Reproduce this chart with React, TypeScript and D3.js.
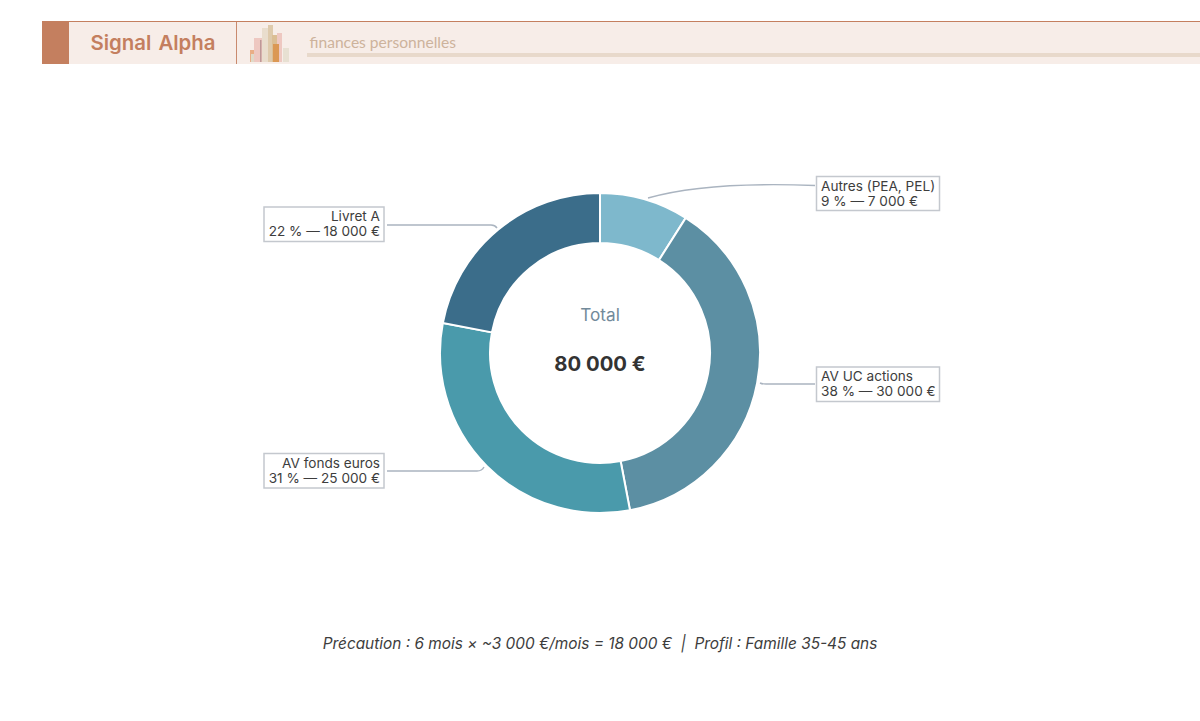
import React from 'react';
import * as d3 from 'd3';

const categories = ['Autres (PEA, PEL)', 'AV UC actions', 'AV fonds euros', 'Livret A'];
const shares = [9, 38, 31, 22];
const amountLabels = ['7 000 €', '30 000 €', '25 000 €', '18 000 €'];
const colors = ['#7eb8cc', '#5c8fa3', '#4a9aab', '#3b6d8a'];

const totalLabel = 'Total';
const totalValue = '80 000 €';
const footnote = 'Précaution : 6 mois × ~3 000 €/mois = 18 000 €  |  Profil : Famille 35-45 ans';

// little skyline logo in the header: start, width, height in logo units
const logoStarts = [0, 1, 4, 10, 12, 18, 22, 27, 23, 33];
const logoWidths = [7, 7, 8, 1.5, 7, 5, 5, 5, 6, 6];
const logoHeights = [12, 8, 24, 22, 34, 37, 27, 29, 18, 14];
const logoColors = ['#e8a87c', '#ddd8c6', '#eec4bd', '#b78f8f', '#e8dccb', '#dcc7a6', '#d9b98c', '#eec4bd', '#d98f45', '#e6dfd0'];

const WIDTH = 1200;
const HEIGHT = 721;
const CX = 600;
const CY = 353;
const R_OUT = 160;
const R_IN = 110;

// label boxes, one per category
const boxes = [
  { x: 816.5, y: 176.5, w: 123, h: 34, side: 'left' },
  { x: 816.5, y: 367, w: 123, h: 34.5, side: 'left' },
  { x: 264, y: 453.5, w: 120, h: 34.5, side: 'right' },
  { x: 264, y: 207, w: 120, h: 34.5, side: 'right' },
];

const leaders = [
  'M648,198 C690,186 750,183 815,185.5',
  'M760,383 Q762,384 766,384 L815,384',
  'M484,467 Q482,471 477,471 L387,471',
  'M497,228 Q495,225 491,225 L387,225',
];

export default function App() {
  const pie = d3.pie<number>().sort(null)(shares);
  const arc = d3.arc<d3.PieArcDatum<number>>().innerRadius(R_IN).outerRadius(R_OUT);

  const logoX = d3.scaleLinear().domain([0, 39]).range([250, 289]);
  const logoY = d3.scaleLinear().domain([0, 40]).range([62, 22]);

  return (
    <svg
      width={WIDTH}
      height={HEIGHT}
      viewBox={`0 0 ${WIDTH} ${HEIGHT}`}
      style={{ position: 'absolute', left: 0, top: 0, background: '#fff' }}
    >
      {/* header band */}
      <rect x={42} y={22} width={1158} height={42} fill="#f7ede8" />
      <rect x={42} y={21} width={1158} height={1} fill="#c47f5f" />
      <rect x={42} y={22} width={27} height={42} fill="#c47f5f" />
      <rect x={236} y={22} width={1} height={42} fill="#c98a6e" />
      <text x={153} y={50} textAnchor="middle" fontFamily="Inter" fontWeight={600} fontSize={20.4} wordSpacing={2} fill="#c47f5f">
        Signal Alpha
      </text>
      <g opacity={0.9}>
        {logoHeights.map((h, i) => (
          <rect
            key={i}
            x={logoX(logoStarts[i])}
            y={logoY(h)}
            width={logoX(logoWidths[i]) - logoX(0)}
            height={logoY(0) - logoY(h)}
            fill={logoColors[i]}
          />
        ))}
      </g>
      <text x={309.5} y={48} fontFamily="Lato" fontWeight={400} fontSize={15.6} fill="#cdb39c">
        finances personnelles
      </text>
      <rect x={307} y={53} width={893} height={4} fill="#e8d9cb" />

      {/* donut */}
      <g transform={`translate(${CX},${CY})`}>
        {pie.map((d, i) => (
          <path key={i} d={arc(d) ?? ''} fill={colors[i]} stroke="#fff" strokeWidth={2} />
        ))}
        <text y={-32} textAnchor="middle" fontFamily="Inter" fontSize={17.2} fill="#728a9a">
          {totalLabel}
        </text>
        <text y={18} textAnchor="middle" fontFamily="Inter" fontWeight={700} fontSize={20.3} fill="#333">
          {totalValue}
        </text>
      </g>

      {/* leaders and labels */}
      {categories.map((c, i) => {
        const b = boxes[i];
        const left = b.side === 'left';
        const tx = left ? b.x + 4.5 : b.x + b.w - 4;
        return (
          <g key={c}>
            <path d={leaders[i]} fill="none" stroke="#aab4c0" strokeWidth={1.4} />
            <rect x={b.x} y={b.y} width={b.w} height={b.h} fill="#fff" stroke="#c4c8ce" strokeWidth={1.5} />
            <text textAnchor={left ? 'start' : 'end'} fontFamily="Inter" fontSize={13.6} fill="#3d3d3d">
              <tspan x={tx} y={b.y + 14}>{c}</tspan>
              <tspan x={tx} y={b.y + 29}>{`${shares[i]} % — ${amountLabels[i]}`}</tspan>
            </text>
          </g>
        );
      })}

      <text x={600} y={649} textAnchor="middle" fontFamily="Inter" fontStyle="italic" fontSize={15.4} fill="#3d3d3d" style={{ whiteSpace: 'pre' }}>
        {footnote}
      </text>
    </svg>
  );
}
